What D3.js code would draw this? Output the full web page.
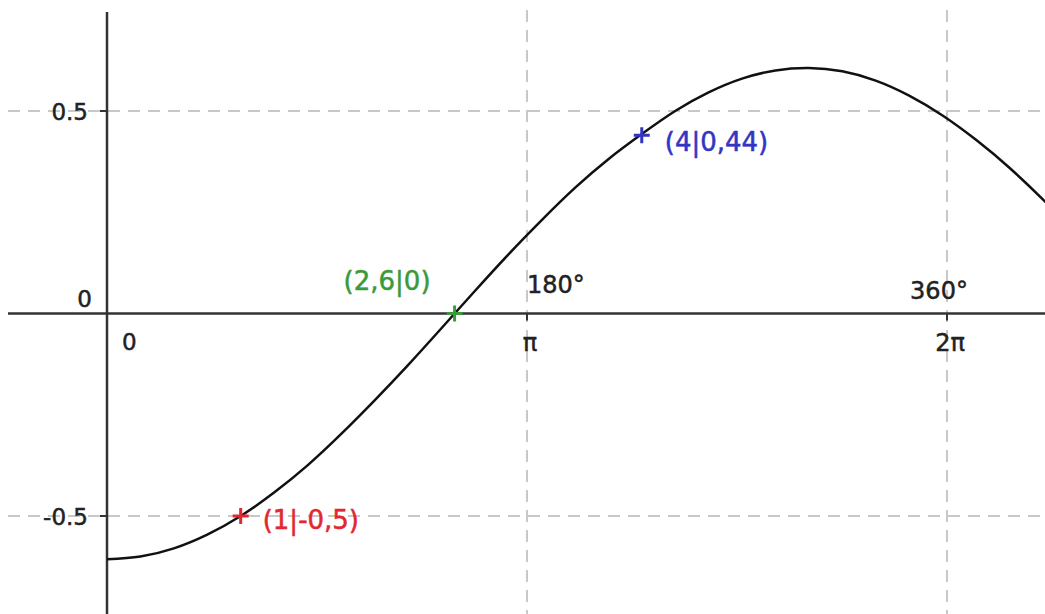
<!DOCTYPE html>
<html>
<head>
<meta charset="utf-8">
<script src="https://cdn.jsdelivr.net/npm/d3@7"></script>
<style>
  body { margin: 0; background: #fff; }
  svg { display: block; }
  text { font-family: "DejaVu Sans", sans-serif; stroke-width: 0.5; }
</style>
</head>
<body>
<div id="chart"></div>
<script>
// curve values
var curveX = [0, 0.25, 0.5, 0.75, 1, 1.25, 1.5, 1.75, 2, 2.25, 2.5, 2.75, 3, 3.25, 3.5, 3.75, 4, 4.25, 4.5, 4.75, 5, 5.25, 5.5, 5.75, 6, 6.25, 6.5, 6.75, 7, 7.1];
var curveY = [-0.607, -0.600, -0.580, -0.546, -0.500, -0.442, -0.375, -0.298, -0.215, -0.128, -0.037, 0.055, 0.145, 0.230, 0.310, 0.381, 0.443, 0.500, 0.546, 0.580, 0.600, 0.606, 0.598, 0.575, 0.538, 0.489, 0.429, 0.360, 0.282, 0.248];

// labelled points
var pointX = [1, 2.6, 4];
var pointY = [-0.5, 0, 0.44];
var pointText = ["(1|-0,5)", "(2,6|0)", "(4|0,44)"];
var pointColor = ["#e32630", "#3a9a3a", "#3434c4"];

// grid / ticks
var yTicks = [0.5, -0.5];
var yTickText = ["0.5", "-0.5"];
var xTicks = [Math.PI, 2 * Math.PI];
var xTickText = ["π", "2π"];
var degText = ["180°", "360°"];

var width = 1045, height = 614;

var x = d3.scaleLinear().domain([0, 2 * Math.PI]).range([107, 947]);
var y = d3.scaleLinear().domain([-0.5, 0.5]).range([516, 111]);

var svg = d3.select("#chart").append("svg")
    .attr("width", width)
    .attr("height", height);

// dashed grid
svg.selectAll("line.hgrid")
    .data(yTicks)
    .enter().append("line")
        .attr("class", "hgrid")
        .attr("x1", 8).attr("x2", width)
        .attr("y1", function(d) { return y(d); })
        .attr("y2", function(d) { return y(d); })
        .attr("stroke", "#c8c8c8")
        .attr("stroke-width", 2)
        .attr("stroke-dasharray", "12,8");

svg.selectAll("line.vgrid")
    .data(xTicks)
    .enter().append("line")
        .attr("class", "vgrid")
        .attr("y1", 10).attr("y2", height)
        .attr("x1", function(d) { return x(d); })
        .attr("x2", function(d) { return x(d); })
        .attr("stroke", "#c8c8c8")
        .attr("stroke-width", 2)
        .attr("stroke-dasharray", "12,8");

// axes
svg.append("line")
    .attr("x1", 8).attr("x2", width)
    .attr("y1", y(0)).attr("y2", y(0))
    .attr("stroke", "#333").attr("stroke-width", 2.5);
svg.append("line")
    .attr("x1", x(0)).attr("x2", x(0))
    .attr("y1", 12).attr("y2", height)
    .attr("stroke", "#333").attr("stroke-width", 2.5);

// tick marks
svg.selectAll("line.ytick")
    .data(yTicks)
    .enter().append("line")
        .attr("class", "ytick")
        .attr("x1", x(0) - 7).attr("x2", x(0))
        .attr("y1", function(d) { return y(d); })
        .attr("y2", function(d) { return y(d); })
        .attr("stroke", "#333").attr("stroke-width", 2);
svg.selectAll("line.xtick")
    .data(xTicks)
    .enter().append("line")
        .attr("class", "xtick")
        .attr("y1", y(0)).attr("y2", y(0) + 7)
        .attr("x1", function(d) { return x(d); })
        .attr("x2", function(d) { return x(d); })
        .attr("stroke", "#333").attr("stroke-width", 2);

// tick labels
svg.selectAll("text.ylab")
    .data(yTicks)
    .enter().append("text")
        .attr("class", "ylab")
        .attr("x", 88)
        .attr("y", function(d) { return y(d) + 9; })
        .attr("text-anchor", "end")
        .attr("font-size", 23)
        .attr("fill", "#222").attr("stroke", "#222")
        .text(function(d, i) { return yTickText[i]; });

svg.append("text")
    .attr("x", 92).attr("y", y(0) - 7)
    .attr("text-anchor", "end")
    .attr("font-size", 23).attr("fill", "#222").attr("stroke", "#222")
    .text("0");
svg.append("text")
    .attr("x", 122).attr("y", y(0) + 36)
    .attr("font-size", 23).attr("fill", "#222").attr("stroke", "#222")
    .text("0");

svg.selectAll("text.xlab")
    .data(xTicks)
    .enter().append("text")
        .attr("class", "xlab")
        .attr("x", function(d) { return x(d) + 3; })
        .attr("y", y(0) + 37)
        .attr("text-anchor", "middle")
        .attr("font-size", 24)
        .attr("fill", "#222").attr("stroke", "#222")
        .text(function(d, i) { return xTickText[i]; });

svg.selectAll("text.deg")
    .data(xTicks)
    .enter().append("text")
        .attr("class", "deg")
        .attr("x", function(d, i) { return x(d) + (i == 0 ? 0 : -8); })
        .attr("y", function(d, i) { return y(0) - (i == 0 ? 21 : 15); })
        .attr("text-anchor", function(d, i) { return i == 0 ? "start" : "middle"; })
        .attr("font-size", 24)
        .attr("fill", "#222").attr("stroke", "#222")
        .text(function(d, i) { return degText[i]; });

// the curve
var line = d3.line()
    .x(function(d) { return x(d[0]); })
    .y(function(d) { return y(d[1]); })
    .curve(d3.curveNatural);

svg.append("path")
    .datum(d3.zip(curveX, curveY))
    .attr("d", line)
    .attr("fill", "none")
    .attr("stroke", "#111")
    .attr("stroke-width", 2.5);

// points as crosses
var pts = d3.range(pointX.length);
svg.selectAll("path.pt")
    .data(pts)
    .enter().append("path")
        .attr("class", "pt")
        .attr("d", function(i) {
            var px = x(pointX[i]), py = y(pointY[i]);
            return "M" + (px - 8) + "," + py + "H" + (px + 8) +
                   "M" + px + "," + (py - 8) + "V" + (py + 8);
        })
        .attr("stroke", function(i) { return pointColor[i]; })
        .attr("stroke-width", 3);

var labelDx = [22, -111, 23];
var labelDy = [13, -24, 16];
svg.selectAll("text.ptlab")
    .data(pts)
    .enter().append("text")
        .attr("class", "ptlab")
        .attr("x", function(i) { return x(pointX[i]) + labelDx[i]; })
        .attr("y", function(i) { return y(pointY[i]) + labelDy[i]; })
        .attr("font-size", 26)
        .attr("fill", function(i) { return pointColor[i]; })
        .attr("stroke", function(i) { return pointColor[i]; })
        .attr("stroke-width", 0.3)
        .text(function(i) { return pointText[i]; });
</script>
</body>
</html>
